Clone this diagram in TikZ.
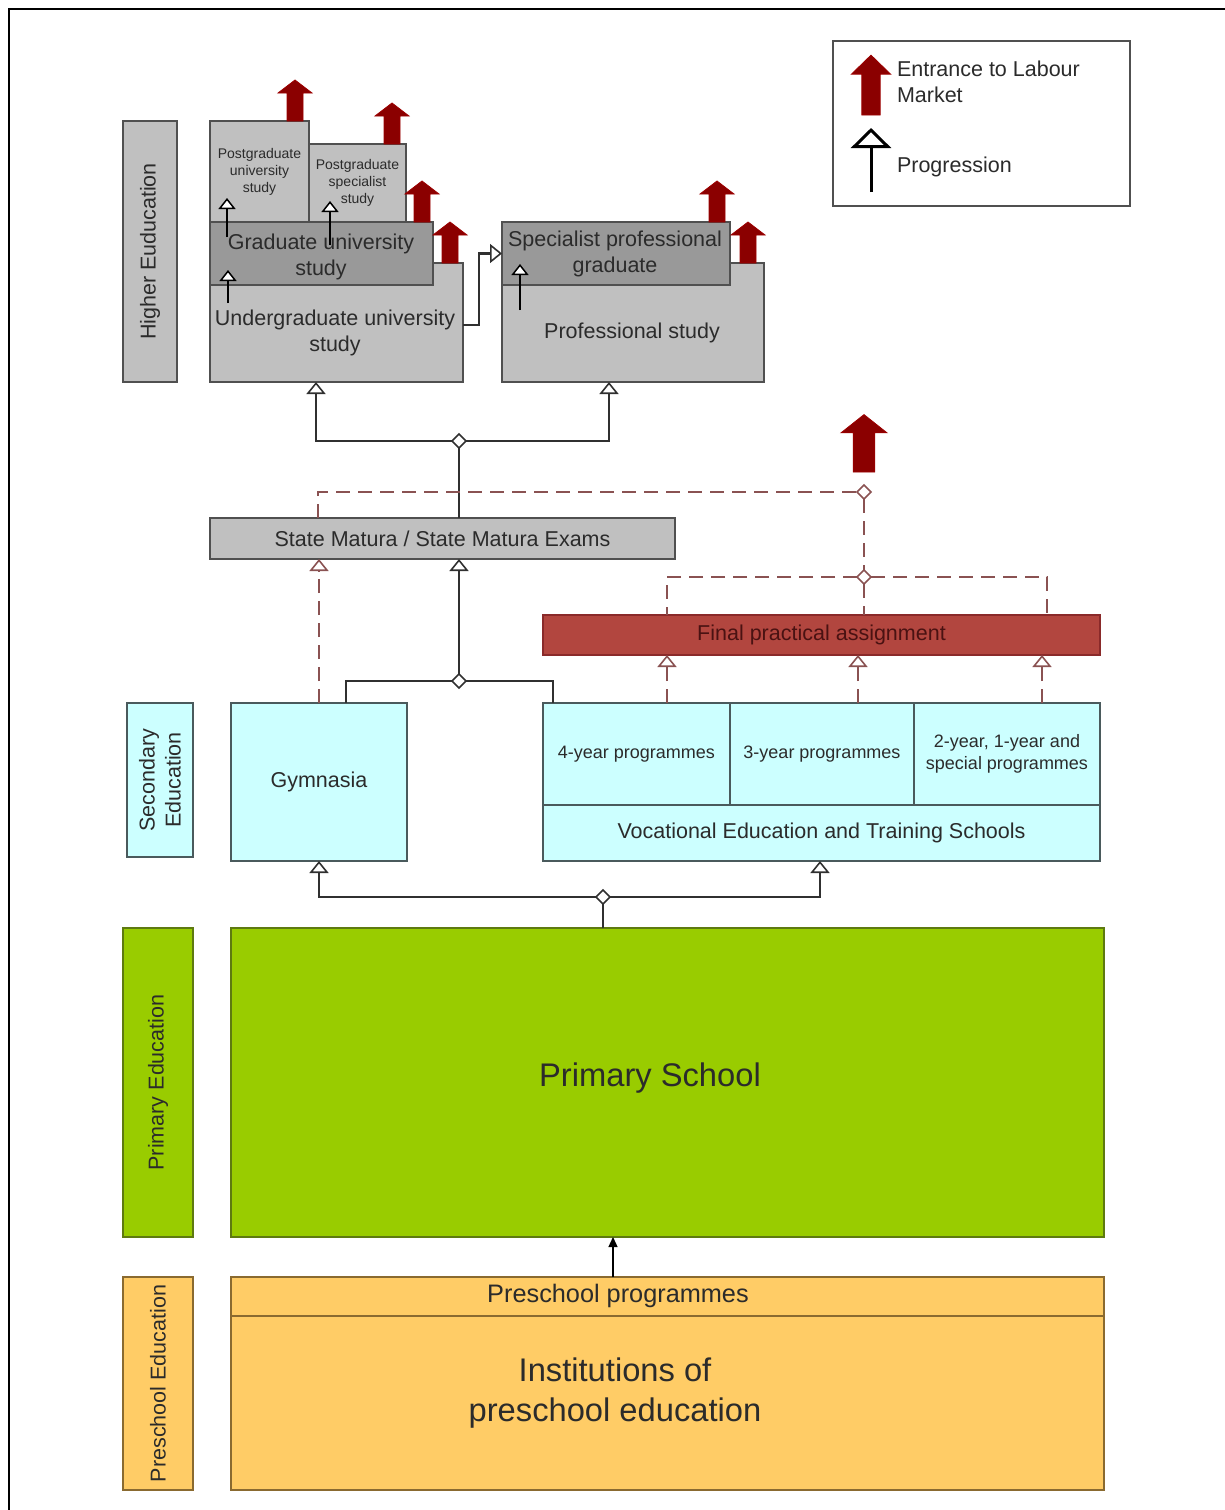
\documentclass[tikz,border=0pt]{standalone}
\usepackage{fontspec}
\setmainfont{Liberation Sans}
\usetikzlibrary{arrows.meta,shapes.geometric,calc}
\definecolor{gbox}{HTML}{C0C0C0}
\definecolor{gdark}{HTML}{999999}
\definecolor{edge}{HTML}{505050}
\definecolor{cyanbox}{HTML}{CCFFFF}
\definecolor{cyanedge}{HTML}{4A5A5C}
\definecolor{greenbox}{HTML}{99CC00}
\definecolor{greenedge}{HTML}{5E7A10}
\definecolor{orangebox}{HTML}{FFCC66}
\definecolor{orangeedge}{HTML}{8A6A30}
\definecolor{fpafill}{HTML}{B2463F}
\definecolor{fpaedge}{HTML}{8A2A2A}
\definecolor{fpatext}{HTML}{4A1212}
\definecolor{labred}{HTML}{8B0000}
\definecolor{dashred}{HTML}{8A5252}
\definecolor{txt}{HTML}{2B2B2B}
\definecolor{lc}{HTML}{303030}
\newcommand\rbox[7]{\node[#2, minimum width={(#5-#3)*1pt}, minimum height={(#6-#4)*1pt}] (#1) at ({(#3+#5)/2},{(#4+#6)/2}) {#7};}
\newcommand\fmain{\fontsize{21.5}{26}\selectfont}
\newcommand\fcell{\fontsize{18}{22}\selectfont}
\newcommand\ftiny{\fontsize{14}{17}\selectfont}
\newcommand\fbig{\fontsize{32.7}{40}\selectfont}
\newcommand\fpre{\fontsize{25.3}{30}\selectfont}
\begin{document}
\begin{tikzpicture}[x=1pt,y=-1pt,
  every node/.style={inner sep=0pt, outer sep=0pt},
  box/.style={draw=edge, line width=1.8pt, fill=gbox, text=txt, align=center, font=\fmain},
  darkbox/.style={box, fill=gdark},
  cbox/.style={box, draw=cyanedge, fill=cyanbox},
  gbx/.style={box, draw=greenedge, fill=greenbox},
  obox/.style={box, draw=orangeedge, fill=orangebox},
  fbox/.style={box, draw=fpaedge, fill=fpafill, text=fpatext},
  lbl/.style={text=txt, align=center},
  junction/.style={diamond, draw=lc, fill=white, line width=1.6pt, minimum size=14pt},
  djunction/.style={junction, draw=dashred},
  line/.style={draw=lc, line width=2.2pt},
  conn/.style={line, -{Triangle[width=19pt,length=12pt,fill=white,line width=1.6pt]}},
  dline/.style={draw=dashred, line width=2.2pt, dash pattern=on 14pt off 8pt},
  dconn/.style={dline, -{Triangle[width=19pt,length=12pt,fill=white,line width=1.6pt]}},
  smallprog/.style={draw=black, line width=1.8pt, -{Triangle[width=17pt,length=11pt,fill=white,line width=1.5pt]}},
  labarrow/.pic={\filldraw[fill=labred, draw=labred!85!red, line width=0.8pt] (-8,0) -- (-8,-28) -- (-17,-28) -- (0,-41) -- (17,-28) -- (8,-28) -- (8,0) -- cycle;}
]
\useasboundingbox (0,0) rectangle (1225,1510);
\fill[white] (0,0) rectangle (1225,1510);
% outer frame
\draw[line width=2.5pt] (9,1512) -- (9,9) -- (1227,9);

% ---------- legend ----------
\rbox{legend}{draw=edge, line width=1.6pt, fill=white}{833}{41}{1130}{206}{}
\pic[xscale=1.15, yscale=1.46] at (871,115) {labarrow};
\node[lbl, font=\fmain, align=left, anchor=west] (legt1) at (897,82) {Entrance to Labour\\Market};
\coordinate (legps) at (871,192);
\coordinate (legpe) at (871,128);
\draw[draw=black, line width=3pt, -{Triangle[width=40pt,length=20pt,fill=white,line width=3pt]}] (legps) -- (legpe);
\node[lbl, font=\fmain, anchor=west] (legt2) at (897,167) {Progression};

% ---------- side labels ----------
\rbox{hel}{box}{123}{121}{177}{382}{}
\node[lbl, font=\fmain, rotate=90] (helt) at (hel.center) {Higher Euducation};
\rbox{sel}{cbox}{127}{703}{193}{857}{}
\node[lbl, font=\fmain, rotate=90, align=center] (selt) at (sel.center) {Secondary\\Education};
\rbox{pel}{gbx}{123}{928}{193}{1237}{}
\node[lbl, font=\fmain, rotate=90] (pelt) at (pel.center) {Primary Education};
\rbox{prl}{obox}{123}{1277}{193}{1490}{}
\node[lbl, font=\fmain, rotate=90] (prlt) at (prl.center) {Preschool Education};

% ---------- higher education ----------
\rbox{pgu}{box, font=\ftiny}{210}{121}{309}{222}{Postgraduate\\university\\study}
\rbox{pgs}{box, font=\ftiny}{309}{144}{406}{222}{Postgraduate\\specialist\\study}
\rbox{ug}{box}{210}{263}{463}{382}{}
\node[lbl, font=\fmain] (ugt) at (335,333) {Undergraduate university\\study};
\rbox{gu}{darkbox}{210}{222}{433}{285}{}
\node[lbl, font=\fmain] (gut) at (321,257) {Graduate university\\study};
\rbox{ps}{box}{502}{263}{764}{382}{}
\node[lbl, font=\fmain] (pst) at (632,333) {Professional study};
\rbox{spg}{darkbox}{502}{222}{730}{285}{}
\node[lbl, font=\fmain] (spgt) at (615,254) {Specialist professional\\graduate};

\pic at (295,121) {labarrow};
\pic at (392,144) {labarrow};
\pic at (422,222) {labarrow};
\pic at (450,263) {labarrow};
\pic at (717,222) {labarrow};
\pic at (748,263) {labarrow};

% progression inside higher education
\coordinate (a1s) at (227,237); \coordinate (a1e) at (227,198);
\coordinate (a2s) at (330,245); \coordinate (a2e) at (330,201);
\coordinate (a3s) at (228,303); \coordinate (a3e) at (228,270);
\coordinate (a4s) at (520,310); \coordinate (a4e) at (520,264);
\draw[smallprog] (a1s) -- (a1e);
\draw[smallprog] (a2s) -- (a2e);
\draw[smallprog] (a3s) -- (a3e);
\draw[smallprog] (a4s) -- (a4e);
\coordinate (ugout) at (463,325);
\draw[conn] (ugout) -- ++(16,0) |- (spg.west);

% ---------- state matura ----------
\rbox{sm}{box}{210}{518}{675}{559}{State Matura / State Matura Exams}
\node[junction] (j1) at (459,441) {};
\coordinate (ugin) at (316,382);
\coordinate (psin) at (609,382);
\draw[conn] (j1) -| (ugin);
\draw[conn] (j1) -| (psin);
\draw[line] (j1) -- (j1 |- sm.north);

% ---------- secondary ----------
\rbox{gym}{cbox}{231}{703}{407}{861}{Gymnasia}
\rbox{voc}{cbox}{543}{703}{1100}{861}{}
\rbox{c4}{cbox, font=\fcell}{543}{703}{730}{805}{4-year programmes}
\rbox{c3}{cbox, font=\fcell}{730}{703}{914}{805}{3-year programmes}
\rbox{c2}{cbox, font=\fcell}{914}{703}{1100}{805}{2-year, 1-year and\\special programmes}
\rbox{vt}{cbox}{543}{805}{1100}{861}{Vocational Education and Training Schools}

\rbox{fpa}{fbox}{543}{615}{1100}{655}{Final practical assignment}

% solid connectors to State Matura
\node[junction] (j2) at (459,681) {};
\coordinate (gymup) at (346,703);
\coordinate (vocup) at (553,703);
\draw[conn] (j2) -- (j2 |- sm.south);
\draw[line] (j2) -| (gymup);
\draw[line] (j2) -| (vocup);

% dashed connectors
\draw[dconn] (gym.north) -- (gym.north |- sm.south);
\node[djunction] (j3) at (864,492) {};
\node[djunction] (j4) at (864,577) {};
\coordinate (smup) at (318,518);
\draw[dline] (smup) |- (j3);
\draw[dline] (j3) -- (j4);
\coordinate (fpa1) at (667,615);
\coordinate (fpa3) at (1047,615);
\draw[dline] (j4) -| (fpa1);
\draw[dline] (j4) -| (fpa3);
\draw[dline] (j4) -- (j4 |- fpa.north);
\coordinate (v1) at (667,703);
\coordinate (v2) at (858,703);
\coordinate (v3) at (1042,703);
\draw[dconn] (v1) -- (v1 |- fpa.south);
\draw[dconn] (v2) -- (v2 |- fpa.south);
\draw[dconn] (v3) -- (v3 |- fpa.south);
\pic[xscale=1.35, yscale=1.4] at (864,472) {labarrow};

% ---------- primary ----------
\rbox{prim}{gbx}{231}{928}{1104}{1237}{}
\node[lbl, font=\fbig] (primt) at (650,1078) {Primary School};
\node[junction] (j5) at (603,897) {};
\draw[conn] (j5) -| (gym.south);
\coordinate (vocdown) at (820,861);
\draw[conn] (j5) -| (vocdown);
\draw[line] (j5) -- (j5 |- prim.north);

% ---------- preschool ----------
\rbox{pp}{obox}{231}{1277}{1104}{1316}{}
\node[lbl, font=\fpre] (ppt) at (618,1296) {Preschool programmes};
\rbox{inst}{obox}{231}{1316}{1104}{1490}{}
\node[lbl, font=\fbig] (instt) at (615,1393) {Institutions of\\preschool education};
\coordinate (ppout) at (613,1277);
\draw[draw=black, line width=1.3pt, -{Triangle[width=9pt,length=10pt]}] (ppout) -- (ppout |- prim.south);
\end{tikzpicture}
\end{document}
